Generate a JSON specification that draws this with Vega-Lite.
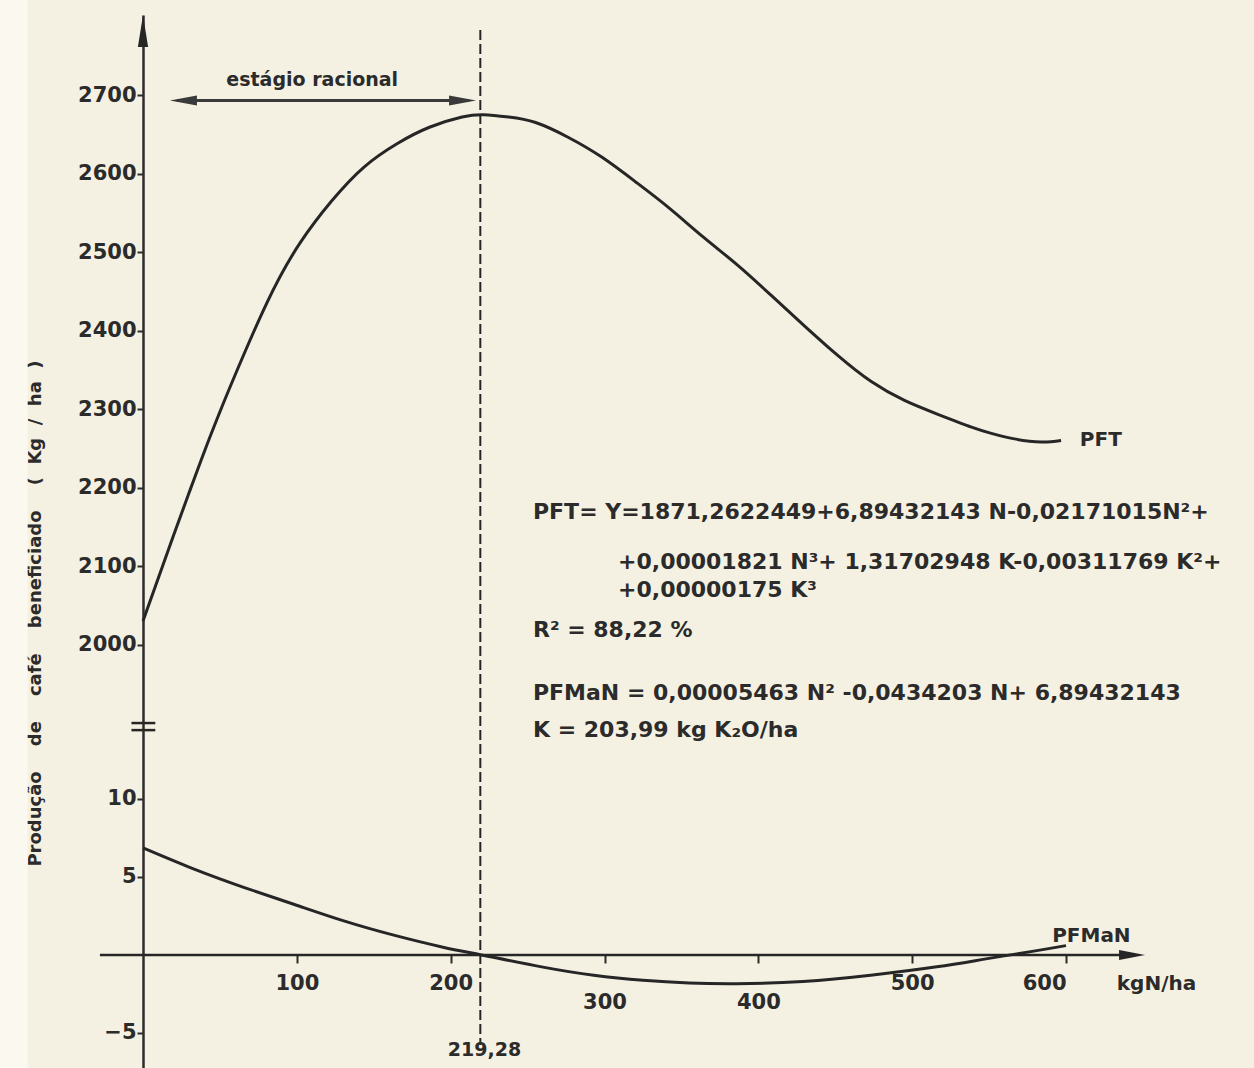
{
  "$schema": "https://vega.github.io/schema/vega-lite/v6.json",
  "width": 1254,
  "height": 1068,
  "autosize": "none",
  "padding": 0,
  "background": "#f5f1e2",
  "config": {
    "view": {"stroke": null},
    "text": {"font": "DejaVu Sans", "fontWeight": "bold", "color": "#2b2b2b"}
  },
  "datasets": {
    "pft": [
      {"N": 0, "V": 2030}, {"N": 19.3, "V": 2136}, {"N": 29.7, "V": 2192}, {"N": 40.1, "V": 2247},
      {"N": 49.9, "V": 2296}, {"N": 58.5, "V": 2337}, {"N": 80.7, "V": 2436}, {"N": 101.9, "V": 2511},
      {"N": 122.6, "V": 2565}, {"N": 143.5, "V": 2608}, {"N": 165.1, "V": 2638}, {"N": 186.2, "V": 2659},
      {"N": 207.4, "V": 2672}, {"N": 221.5, "V": 2675}, {"N": 237.7, "V": 2672}, {"N": 255.2, "V": 2665},
      {"N": 276.6, "V": 2646}, {"N": 298.2, "V": 2621}, {"N": 320.5, "V": 2589}, {"N": 342.1, "V": 2556},
      {"N": 363.7, "V": 2520}, {"N": 386.1, "V": 2484}, {"N": 407.7, "V": 2446}, {"N": 429.4, "V": 2407},
      {"N": 451.8, "V": 2368}, {"N": 473.4, "V": 2335}, {"N": 495, "V": 2311}, {"N": 517.1, "V": 2293},
      {"N": 538.6, "V": 2277}, {"N": 551.5, "V": 2269}, {"N": 566.5, "V": 2262}, {"N": 583.9, "V": 2258},
      {"N": 596.8, "V": 2260}
    ],
    "pfman": [
      {"N": 0, "V": 6.86}, {"N": 32, "V": 5.55}, {"N": 65, "V": 4.35}, {"N": 98, "V": 3.25},
      {"N": 130, "V": 2.2}, {"N": 163, "V": 1.27}, {"N": 195, "V": 0.5}, {"N": 220, "V": 0},
      {"N": 260, "V": -0.78}, {"N": 293, "V": -1.3}, {"N": 325, "V": -1.62}, {"N": 355, "V": -1.8},
      {"N": 386, "V": -1.85}, {"N": 429, "V": -1.7}, {"N": 473, "V": -1.3}, {"N": 516, "V": -0.76},
      {"N": 548, "V": -0.25}, {"N": 581, "V": 0.28}, {"N": 600, "V": 0.6}
    ]
  },
  "layer": [
    {
      "data": {"values": [{}]},
      "mark": {"type": "rect", "color": "#faf8ef"},
      "encoding": {
        "x": {"datum": -93, "type": "quantitative", "scale": {"domain": [0, 600], "range": [143, 1066], "nice": false, "zero": false}},
        "x2": {"datum": -75},
        "y": {"datum": -8, "type": "quantitative", "scale": {"domain": [-7.4, 14, 1890, 2802], "range": [1070.4, 736.6, 730.9, 15], "nice": false, "zero": false}},
        "y2": {"datum": 2830}
      }
    },
    {
      "data": {"name": "pft"},
      "mark": {"type": "line", "interpolate": "natural", "color": "#262626", "strokeWidth": 3},
      "encoding": {
        "x": {
          "field": "N", "type": "quantitative",
          "scale": {"domain": [0, 600], "range": [143, 1066], "nice": false, "zero": false},
          "axis": {
            "orient": "bottom", "offset": -113, "values": [100, 200, 300, 400, 500, 600],
            "domain": false, "grid": false, "tickSize": 8, "tickWidth": 2, "tickColor": "#2b2b2b",
            "labelFont": "DejaVu Sans", "labelFontWeight": "bold", "labelFontSize": 21, "labelColor": "#2b2b2b",
            "labelPadding": {"condition": {"test": "datum.value >= 300 && datum.value <= 400", "value": 28}, "value": 9},
            "title": "kgN/ha", "titleFont": "DejaVu Sans", "titleFontWeight": "bold", "titleFontSize": 20, "titleColor": "#2b2b2b",
            "titleX": 1156, "titleY": 28, "titleAlign": "center", "titleBaseline": "middle", "titleAngle": 0
          }
        },
        "y": {
          "field": "V", "type": "quantitative",
          "scale": {"domain": [-7.4, 14, 1890, 2802], "range": [1070.4, 736.6, 730.9, 15], "nice": false, "zero": false},
          "axis": {
            "orient": "left", "offset": -143, "values": [-5, 5, 10, 2000, 2100, 2200, 2300, 2400, 2500, 2600, 2700],
            "format": "d", "grid": false, "domainColor": "#2b2b2b", "domainWidth": 2.5,
            "tickSize": 6, "tickWidth": 2, "tickColor": "#2b2b2b", "labelPadding": 1,
            "labelFont": "DejaVu Sans", "labelFontWeight": "bold", "labelFontSize": 21, "labelColor": "#2b2b2b",
            "title": "Produção\u00a0\u00a0\u00a0\u00a0de\u00a0\u00a0\u00a0\u00a0café\u00a0\u00a0\u00a0\u00a0beneficiado\u00a0\u00a0\u00a0\u00a0(\u00a0\u00a0Kg\u00a0\u00a0/\u00a0\u00a0ha\u00a0\u00a0)",
            "titleFont": "DejaVu Sans", "titleFontWeight": "bold", "titleFontSize": 18, "titleColor": "#2b2b2b",
            "titleX": -108, "titleY": 613, "titleAngle": -90, "titleAlign": "center", "titleBaseline": "middle"
          }
        }
      }
    },
    {
      "data": {"name": "pfman"},
      "mark": {"type": "line", "interpolate": "natural", "color": "#262626", "strokeWidth": 3},
      "encoding": {
        "x": {"field": "N", "type": "quantitative", "scale": {"domain": [0, 600], "range": [143, 1066], "nice": false, "zero": false}},
        "y": {"field": "V", "type": "quantitative", "scale": {"domain": [-7.4, 14, 1890, 2802], "range": [1070.4, 736.6, 730.9, 15], "nice": false, "zero": false}}
      }
    },
    {
      "data": {"values": [{}]},
      "mark": {"type": "rule", "color": "#262626", "strokeWidth": 2.5},
      "encoding": {
        "x": {"datum": -28, "type": "quantitative", "scale": {"domain": [0, 600], "range": [143, 1066], "nice": false, "zero": false}},
        "x2": {"datum": 640},
        "y": {"datum": 0, "type": "quantitative", "scale": {"domain": [-7.4, 14, 1890, 2802], "range": [1070.4, 736.6, 730.9, 15], "nice": false, "zero": false}}
      }
    },
    {
      "data": {"values": [{}]},
      "mark": {"type": "point", "shape": "M0,0L-2,-0.38L-2,0.38Z", "filled": true, "opacity": 1, "size": 676, "color": "#262626"},
      "encoding": {
        "x": {"datum": 651.4, "type": "quantitative", "scale": {"domain": [0, 600], "range": [143, 1066], "nice": false, "zero": false}},
        "y": {"datum": 0, "type": "quantitative", "scale": {"domain": [-7.4, 14, 1890, 2802], "range": [1070.4, 736.6, 730.9, 15], "nice": false, "zero": false}}
      }
    },
    {
      "data": {"values": [{}]},
      "mark": {"type": "point", "shape": "M0,0L-0.32,2L0.32,2Z", "filled": true, "opacity": 1, "size": 1024, "color": "#262626"},
      "encoding": {
        "x": {"datum": 0, "type": "quantitative", "scale": {"domain": [0, 600], "range": [143, 1066], "nice": false, "zero": false}},
        "y": {"datum": 2802, "type": "quantitative", "scale": {"domain": [-7.4, 14, 1890, 2802], "range": [1070.4, 736.6, 730.9, 15], "nice": false, "zero": false}}
      }
    },
    {
      "data": {"values": [{}]},
      "mark": {"type": "rule", "color": "#262626", "strokeWidth": 2, "strokeDash": [10, 4]},
      "encoding": {
        "x": {"datum": 219.28, "type": "quantitative", "scale": {"domain": [0, 600], "range": [143, 1066], "nice": false, "zero": false}},
        "y": {"datum": 2783, "type": "quantitative", "scale": {"domain": [-7.4, 14, 1890, 2802], "range": [1070.4, 736.6, 730.9, 15], "nice": false, "zero": false}},
        "y2": {"datum": -5.77}
      }
    },
    {
      "data": {"values": [{"b": 1900}, {"b": 1891}]},
      "mark": {"type": "rule", "color": "#262626", "strokeWidth": 2.5},
      "encoding": {
        "x": {"datum": -7.5, "type": "quantitative", "scale": {"domain": [0, 600], "range": [143, 1066], "nice": false, "zero": false}},
        "x2": {"datum": 8},
        "y": {"field": "b", "type": "quantitative", "scale": {"domain": [-7.4, 14, 1890, 2802], "range": [1070.4, 736.6, 730.9, 15], "nice": false, "zero": false}}
      }
    },
    {
      "data": {"values": [{}]},
      "mark": {"type": "rule", "color": "#3a3a3a", "strokeWidth": 3},
      "encoding": {
        "x": {"datum": 22, "type": "quantitative", "scale": {"domain": [0, 600], "range": [143, 1066], "nice": false, "zero": false}},
        "x2": {"datum": 212},
        "y": {"datum": 2693, "type": "quantitative", "scale": {"domain": [-7.4, 14, 1890, 2802], "range": [1070.4, 736.6, 730.9, 15], "nice": false, "zero": false}}
      }
    },
    {
      "data": {"values": [{}]},
      "mark": {"type": "point", "shape": "M0,0L2,-0.37L2,0.37Z", "filled": true, "opacity": 1, "size": 729, "color": "#3a3a3a"},
      "encoding": {
        "x": {"datum": 17.5, "type": "quantitative", "scale": {"domain": [0, 600], "range": [143, 1066], "nice": false, "zero": false}},
        "y": {"datum": 2693, "type": "quantitative", "scale": {"domain": [-7.4, 14, 1890, 2802], "range": [1070.4, 736.6, 730.9, 15], "nice": false, "zero": false}}
      }
    },
    {
      "data": {"values": [{}]},
      "mark": {"type": "point", "shape": "M0,0L-2,-0.37L-2,0.37Z", "filled": true, "opacity": 1, "size": 729, "color": "#3a3a3a"},
      "encoding": {
        "x": {"datum": 216.5, "type": "quantitative", "scale": {"domain": [0, 600], "range": [143, 1066], "nice": false, "zero": false}},
        "y": {"datum": 2693, "type": "quantitative", "scale": {"domain": [-7.4, 14, 1890, 2802], "range": [1070.4, 736.6, 730.9, 15], "nice": false, "zero": false}}
      }
    },
    {
      "data": {"values": [
        {"N": 110, "V": 2719, "t": "estágio racional", "a": "center", "s": "e"},
        {"N": 609, "V": 2261, "t": "PFT", "a": "left", "s": "l"},
        {"N": 591, "V": 1.2, "t": "PFMaN", "a": "left", "s": "l"},
        {"N": 222, "V": -6.09, "t": "219,28", "a": "center", "s": "e"},
        {"N": 253.5, "V": 2168.8, "t": "PFT= Y=1871,2622449+6,89432143 N-0,02171015N²+", "a": "left", "s": "q"},
        {"N": 308.8, "V": 2105, "t": "+0,00001821 N³+ 1,31702948 K-0,00311769 K²+", "a": "left", "s": "q"},
        {"N": 308.8, "V": 2069.4, "t": "+0,00000175 K³", "a": "left", "s": "q"},
        {"N": 253.5, "V": 2018.5, "t": "R² = 88,22 %", "a": "left", "s": "q"},
        {"N": 253.5, "V": 1938, "t": "PFMaN = 0,00005463 N² -0,0434203 N+ 6,89432143", "a": "left", "s": "q"},
        {"N": 253.5, "V": 1891, "t": "K = 203,99 kg K₂O/ha", "a": "left", "s": "q"}
      ]},
      "mark": {"type": "text", "baseline": "middle", "align": {"expr": "datum.a"}, "fontSize": {"expr": "datum.s == 'q' ? 22 : (datum.s == 'l' ? 20 : 19)"}},
      "encoding": {
        "x": {"field": "N", "type": "quantitative", "scale": {"domain": [0, 600], "range": [143, 1066], "nice": false, "zero": false}},
        "y": {"field": "V", "type": "quantitative", "scale": {"domain": [-7.4, 14, 1890, 2802], "range": [1070.4, 736.6, 730.9, 15], "nice": false, "zero": false}},
        "text": {"field": "t"}
      }
    }
  ]
}
